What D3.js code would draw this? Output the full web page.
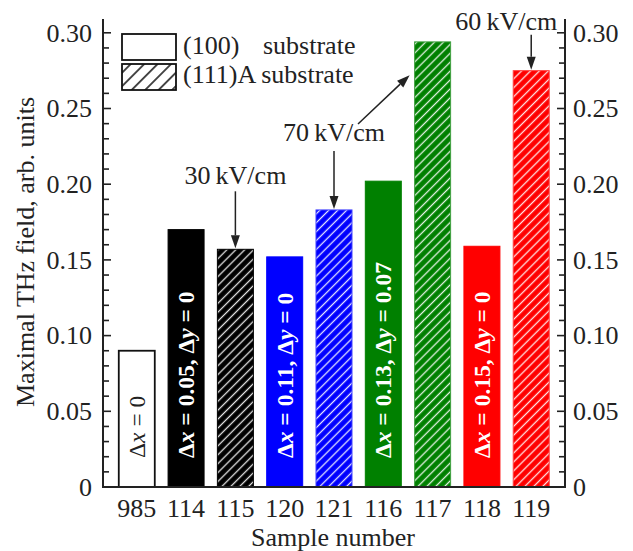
<!DOCTYPE html>
<html><head><meta charset="utf-8">
<script src="https://cdn.jsdelivr.net/npm/d3@7"></script>
<style>
body{margin:0;background:#fff}
svg text{font-family:'Liberation Serif','DejaVu Serif',serif;fill:#222}
</style>
</head><body><svg id="c" width="633" height="551" font-family="Liberation Serif"></svg>
<script>
// ---- data ----
const samples   = ["985","114","115","120","121","116","117","118","119"];
const values    = [0.090,0.170,0.157,0.152,0.183,0.202,0.294,0.159,0.275];
const substrate = ["(100)","(100)","(111)A","(100)","(111)A","(100)","(111)A","(100)","(111)A"];
const colors    = ["#ffffff","#000000","#000000","#0000ff","#0000ff","#008000","#008000","#ff0000","#ff0000"];
const labelDx   = ["0","0.05",null,"0.11",null,"0.13",null,"0.15",null];
const labelDy   = [null,"0",null,"0",null,"0.07",null,"0",null];
const majorTicks = [0,0.05,0.10,0.15,0.20,0.25,0.30];
const tickLabels = ["0","0.05","0.10","0.15","0.20","0.25","0.30"];
const minorTicks = d3.range(0,31).map(i=>i/100);
const annotations = [
  {text:"30\u2009kV/cm", targets:[{sample:"115", value:0.157}]},
  {text:"70\u2009kV/cm", targets:[{sample:"121", value:0.183},{sample:"117", value:0.272}]},
  {text:"60\u2009kV/cm", targets:[{sample:"119", value:0.275}]}
];

const FS = 26;
const svg = d3.select("#c");
const L = 103, R = 565, B = 487, T = 19;
const x = d3.scaleBand().domain(samples).range([L,R]).paddingInner(0.27).paddingOuter(0.32);
const y = d3.scaleLinear().domain([0,0.30]).range([B,32.8]);

// patterns
const defs = svg.append("defs");
function hatch(id, bg, line, size, sw, op){
  const p = defs.append("pattern").attr("id",id).attr("patternUnits","userSpaceOnUse")
    .attr("width",size).attr("height",size).attr("patternTransform","rotate(45)");
  p.append("rect").attr("width",size).attr("height",size).attr("fill",bg);
  p.append("line").attr("x1",size/2).attr("x2",size/2).attr("y1",0).attr("y2",size)
    .attr("stroke",line).attr("stroke-width",sw).attr("stroke-opacity",op);
}
colors.forEach((c,i)=>{ if(substrate[i]==="(111)A") hatch("h"+i, c, "#ffffff", 6.3, 1.3, 0.9); });
hatch("hleg", "#ffffff", "#000000", 9.5, 1.4, 1);

const data = samples.map((s,i)=>({s, v:values[i], sub:substrate[i], c:colors[i], dx:labelDx[i], dy:labelDy[i], i}));

// bars
svg.append("g").selectAll("rect").data(data).join("rect")
  .attr("x",d=>x(d.s)).attr("width",x.bandwidth())
  .attr("y",d=>y(d.v)).attr("height",d=>y(0)-y(d.v))
  .attr("fill",d=>d.sub==="(111)A" ? `url(#h${d.i})` : d.c)
  .attr("stroke",d=>d.c==="#ffffff" ? "#111" : (d.sub==="(111)A" ? d3.interpolateRgb(d.c,"#fff")(d.c==="#000000"?0:0.25) : d.c))
  .attr("stroke-width",d=>d.c==="#ffffff"?1.8:1);

// bar labels
const lab = svg.append("g").selectAll("text").data(data.filter(d=>d.dx!==null)).join("text")
  .attr("transform",d=>`translate(${x(d.s)+x.bandwidth()/2+8},${B-29}) rotate(-90)`)
  .attr("font-size",23.5)
  .attr("font-weight",d=>d.c==="#ffffff"?"normal":"bold")
  .style("fill",d=>d.c==="#ffffff"?"#222":"#fff");
lab.each(function(d){
  const t = d3.select(this);
  t.append("tspan").text("\u0394");
  t.append("tspan").attr("font-style","italic").text("x");
  t.append("tspan").text(" = "+d.dx+(d.dy!==null?", ":""));
  if(d.dy!==null){
    t.append("tspan").text("\u0394");
    t.append("tspan").attr("font-style","italic").text("y");
    t.append("tspan").text(" = "+d.dy);
  }
});

// axes lines
const ax = svg.append("g").attr("stroke","#222").attr("stroke-width",2).attr("fill","none");
ax.append("line").attr("x1",L).attr("x2",L).attr("y1",T).attr("y2",B+1);
ax.append("line").attr("x1",R).attr("x2",R).attr("y1",T).attr("y2",B+1);
ax.append("line").attr("x1",L-1).attr("x2",R+1).attr("y1",B).attr("y2",B);
// ticks
const tk = svg.append("g").attr("stroke","#222").attr("stroke-width",1.6);
minorTicks.forEach(v=>{
  const major = majorTicks.some(m=>Math.abs(m-v)<1e-9);
  const len = major?8:6;
  tk.append("line").attr("x1",L).attr("x2",L+len).attr("y1",y(v)).attr("y2",y(v));
  tk.append("line").attr("x1",R).attr("x2",R-len).attr("y1",y(v)).attr("y2",y(v));
});
// tick labels
const tl = svg.append("g").attr("font-size",FS);
majorTicks.forEach((v,i)=>{
  tl.append("text").attr("x",92).attr("y",y(v)).attr("dy","0.34em").attr("text-anchor","end").text(tickLabels[i]);
  tl.append("text").attr("x",573).attr("y",y(v)).attr("dy","0.34em").attr("text-anchor","start").text(tickLabels[i]);
});
// x labels
svg.append("g").attr("font-size",FS).selectAll("text").data(samples).join("text")
  .attr("x",d=>x(d)+x.bandwidth()/2).attr("y",517).attr("text-anchor","middle").text(d=>d);
svg.append("text").attr("x",333).attr("y",546).attr("font-size",FS).attr("text-anchor","middle").text("Sample number");
svg.append("text").attr("transform","translate(34,252) rotate(-90)").attr("font-size",FS).attr("text-anchor","middle")
  .text("Maximal THz field, arb. units");

// legend
const lg = svg.append("g");
lg.append("rect").attr("x",122).attr("y",34).attr("width",54).attr("height",26).attr("fill","#fff").attr("stroke","#111").attr("stroke-width",1.8);
lg.append("rect").attr("x",122).attr("y",64).attr("width",54).attr("height",26).attr("fill","url(#hleg)").attr("stroke","#111").attr("stroke-width",1.8);
const l1 = lg.append("text").attr("x",183).attr("y",54).attr("font-size",FS);
l1.append("tspan").text("(100)");
l1.append("tspan").attr("x",263).text("substrate");
lg.append("text").attr("x",183).attr("y",83).attr("font-size",FS).text("(111)A substrate");

// annotations
const an = svg.append("g");
function arrow(x1,y1,x2,y2){
  const ang = Math.atan2(y2-y1,x2-x1), hl=13, hw=4.5;
  const bx = x2-hl*Math.cos(ang), by = y2-hl*Math.sin(ang);
  an.append("line").attr("x1",x1).attr("y1",y1).attr("x2",bx).attr("y2",by).attr("stroke","#222").attr("stroke-width",1.5);
  an.append("path").attr("fill","#222").attr("d",
    `M${x2},${y2}L${bx+hw*Math.sin(ang)},${by-hw*Math.cos(ang)}L${bx-hw*Math.sin(ang)},${by+hw*Math.cos(ang)}Z`);
}
const cx = s => x(s)+x.bandwidth()/2;
{
  const a = annotations[0], t = a.targets[0];
  an.append("text").attr("x",cx(t.sample)).attr("y",y(t.value)-65).attr("font-size",FS).attr("text-anchor","middle").text(a.text);
  arrow(cx(t.sample), y(t.value)-58, cx(t.sample), y(t.value)-1);
}
{
  const a = annotations[1], t = a.targets[0], t2 = a.targets[1];
  an.append("text").attr("x",cx(t.sample)).attr("y",y(t.value)-69).attr("font-size",FS).attr("text-anchor","middle").text(a.text);
  arrow(cx(t.sample), y(t.value)-59, cx(t.sample), y(t.value)-1);
  arrow(cx(t.sample)+24, y(t.value)-86, x(t2.sample)-5, y(t2.value));
}
{
  const a = annotations[2], t = a.targets[0];
  an.append("text").attr("x",cx(t.sample)-25).attr("y",y(t.value)-41).attr("font-size",FS).attr("text-anchor","middle").text(a.text);
  arrow(cx(t.sample), y(t.value)-36, cx(t.sample), y(t.value)-1);
}
</script>
</body></html>
